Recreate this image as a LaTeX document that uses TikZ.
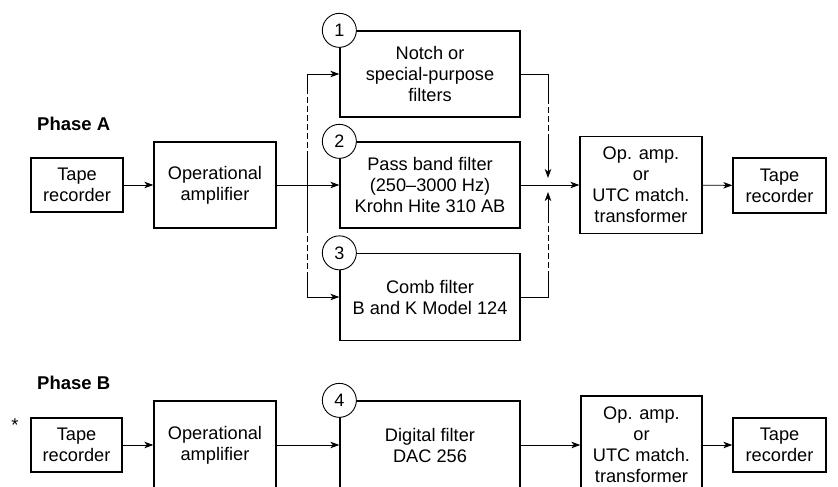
\documentclass[tikz,border=0pt]{standalone}
\usepackage{fontspec}
\setmainfont{Liberation Sans}
\usetikzlibrary{arrows.meta}
\begin{document}
\begin{tikzpicture}[x=1pt,y=-1pt,
  box/.style={draw, line width=1.3pt, align=center, inner sep=0pt, font=\fontsize{18.2}{21}\selectfont},
  conn/.style={line width=0.9pt},
  dconn/.style={line width=0.9pt, dash pattern=on 6pt off 3pt},
  arr/.style={conn, -{Stealth[length=9pt,width=6.5pt,inset=2.5pt]}},
  num/.style={draw, circle, fill=white, minimum size=34pt, inner sep=0pt, line width=0.9pt, font=\fontsize{18}{20}\selectfont},
  phase/.style={font=\bfseries\fontsize{18.5}{20}\selectfont, anchor=west, inner sep=0pt},
  star/.style={font=\fontsize{18.5}{20}\selectfont, anchor=north, inner sep=0pt}
]
\useasboundingbox (0,0) rectangle (838,487);

% ---------- Phase A ----------
\node[phase] (pA) at (37,124) {Phase A};
\node[box, minimum width=92pt, minimum height=54pt] (tapeA) at (77,185) {Tape\\recorder};
\node[box, minimum width=122pt, minimum height=86pt] (ampA) at (215,185) {Operational\\amplifier};
\node[box, minimum width=180pt, minimum height=86pt] (f1) at (430,74) {Notch or\\special-purpose\\filters};
\node[box, minimum width=180pt, minimum height=86pt] (f2) at (430,185) {Pass band filter\\(250–3000 Hz)\\Krohn Hite 310 AB};
\node[box, minimum width=180pt, minimum height=87pt] (f3) at (430,297) {Comb filter\\B and K Model 124};
\node[box, minimum width=122pt, minimum height=97pt] (oaA) at (641,185) {Op. amp.\\or\\UTC match.\\transformer};
\node[box, minimum width=93pt, minimum height=55pt] (tapeA2) at (779.5,185.5) {Tape\\recorder};
\node[star] (stA) at (842,158) {*};

\node[num] (n1) at (f1.north west) {1};
\node[num] (n2) at (f2.north west) {2};
\node[num] (n3) at (f3.north west) {3};

\draw[arr] (tapeA) -- (ampA);
\draw[arr] (ampA) -- (f2);

% split on the left
\coordinate (sL) at (307,185);
\coordinate (sLa) at (307,93);
\coordinate (sLc) at (307,157);
\coordinate (sLd) at (307,227);
\coordinate (sLe) at (307,273);
\draw[conn] (sL) -- (sLc);
\draw[dconn] (sLc) -- (sLa);
\draw[arr] (sLa) |- (f1.west);
\draw[conn] (sL) -- (sLd);
\draw[dconn] (sLd) -- (sLe);
\draw[arr] (sLe) |- (f3.west);

% merge on the right
\coordinate (mR) at (548,185);
\coordinate (mRa) at (548,98);
\coordinate (mRc) at (548,140);
\coordinate (mRt) at (548,178);
\coordinate (mRd) at (548,217);
\coordinate (mRe) at (548,277);
\coordinate (mRb) at (548,192);
\draw[conn] (f1.east) -| (mRa);
\draw[dconn] (mRa) -- (mRc);
\draw[arr] (mRc) -- (mRt);
\draw[conn] (f3.east) -| (mRe);
\draw[dconn] (mRe) -- (mRd);
\draw[arr] (mRd) -- (mRb);
\draw[arr] (f2) -- (oaA);
\draw[arr] (oaA) -- (tapeA2);

% ---------- Phase B ----------
\node[phase] (pB) at (37,383) {Phase B};
\node[star] (stB) at (15,419) {*};
\node[box, minimum width=91pt, minimum height=54pt] (tapeB) at (76.5,445) {Tape\\recorder};
\node[box, minimum width=122pt, minimum height=88pt] (ampB) at (215,445) {Operational\\amplifier};
\node[box, minimum width=180pt, minimum height=88pt] (f4) at (430,445) {Digital filter\\DAC 256};
\node[box, minimum width=121pt, minimum height=98pt] (oaB) at (641.5,445) {Op. amp.\\or\\UTC match.\\transformer};
\node[box, minimum width=93pt, minimum height=54pt] (tapeB2) at (779.5,445) {Tape\\recorder};
\node[num] (n4) at (f4.north west) {4};

\draw[arr] (tapeB) -- (ampB);
\draw[arr] (ampB) -- (f4);
\draw[arr] (f4) -- (oaB);
\draw[arr] (oaB) -- (tapeB2);
\end{tikzpicture}
\end{document}
